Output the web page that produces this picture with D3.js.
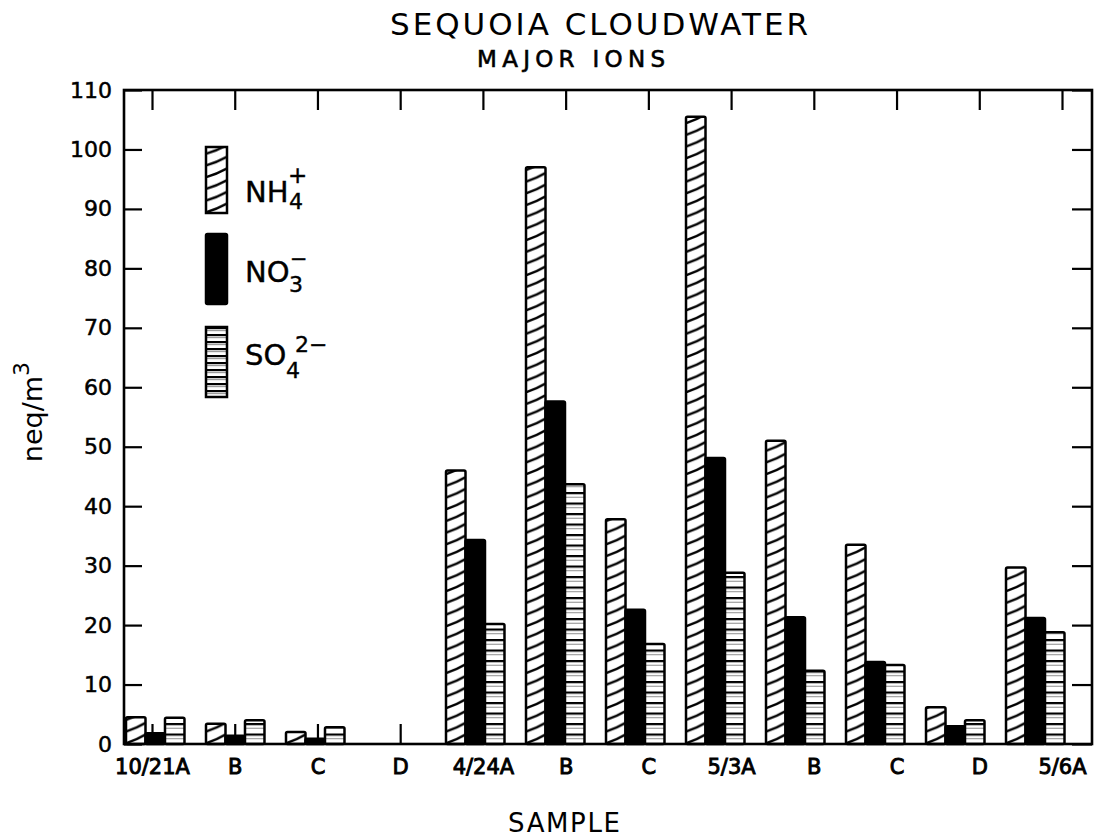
<!DOCTYPE html>
<html>
<head>
<meta charset="utf-8">
<script src="https://cdn.jsdelivr.net/npm/d3@7"></script>
<style>
  body { margin: 0; background: #fff; }
  svg { display: block; }
  text { font-family: "DejaVu Sans", sans-serif; fill: #000; }
</style>
</head>
<body>
<svg id="chart" width="1096" height="839"></svg>
<script>
// ---- data ----
const categories = ["10/21A", "B", "C", "D", "4/24A", "B ", "C ", "5/3A", "B  ", "C  ", "D ", "5/6A"];
const categoryLabels = ["10/21A", "B", "C", "D", "4/24A", "B", "C", "5/3A", "B", "C", "D", "5/6A"];
const seriesNames = ["NH4", "NO3", "SO4"];
const nh4 = [4.5, 3.4, 2.0, 0, 46.0, 97.0, 37.8, 105.5, 51.0, 33.5, 6.2, 29.7];
const no3 = [1.8, 1.4, 0.9, 0, 34.3, 57.6, 22.6, 48.1, 21.3, 13.8, 3.0, 21.2];
const so4 = [4.4, 4.0, 2.8, 0, 20.2, 43.7, 16.8, 28.8, 12.3, 13.3, 4.0, 18.8];
const yTicks = [0, 10, 20, 30, 40, 50, 60, 70, 80, 90, 100, 110];

const seriesValues = { NH4: nh4, NO3: no3, SO4: so4 };

const svg = d3.select("#chart");
const defs = svg.append("defs");

const pLeft = 124, pRight = 1092, pTop = 90, pBottom = 744;

const y = d3.scaleLinear().domain([0, 110]).range([pBottom, pTop]);
// bars
const xBand = d3.scaleBand().domain(categories).range([126, 1064.5]).paddingInner(0.269).paddingOuter(0);
const xSub = d3.scaleBand().domain(seriesNames).range([0, xBand.bandwidth()]).padding(0);
// ticks / labels
const xTick = d3.scalePoint().domain(categories).range([152, 1062]);

// patterns
function hatchPattern(id, x0, y0, w) {
  const H = 11.7;
  const p = defs.append("pattern").attr("id", id).attr("patternUnits", "userSpaceOnUse")
    .attr("x", x0).attr("y", y0).attr("width", w).attr("height", H);
  p.append("rect").attr("width", w).attr("height", H).attr("fill", "#fff");
  p.append("path").attr("d", `M0,${H - 0.8} Q${w * 0.5},${H - 3.8} ${w},${H - 9.5}`)
    .attr("stroke", "#000").attr("stroke-width", 2.4).attr("fill", "none");
  return `url(#${id})`;
}
function stripePattern(id, x0, y0, w, H) {
  const p = defs.append("pattern").attr("id", id).attr("patternUnits", "userSpaceOnUse")
    .attr("x", x0).attr("y", y0).attr("width", w).attr("height", H);
  p.append("rect").attr("width", w).attr("height", H).attr("fill", "#fff");
  p.append("rect").attr("x", 0).attr("y", 0).attr("width", w).attr("height", 2.2).attr("fill", "#000");
  p.append("rect").attr("x", 0).attr("y", H * 0.45).attr("width", w).attr("height", 1).attr("fill", "#8a8a8a");
  return `url(#${id})`;
}

// axes (ticks) drawn first, bars on top
const gAxes = svg.append("g");
const axL = gAxes.append("g").attr("transform", `translate(${pLeft},0)`)
  .call(d3.axisLeft(y).tickValues(yTicks).tickSizeInner(-18).tickSizeOuter(0).tickPadding(12));
const axR = gAxes.append("g").attr("transform", `translate(${pRight},0)`)
  .call(d3.axisRight(y).tickValues(yTicks).tickSizeInner(-20).tickSizeOuter(0).tickFormat(""));
const axT = gAxes.append("g").attr("transform", `translate(0,${pTop})`)
  .call(d3.axisTop(xTick).tickSizeInner(-20).tickSizeOuter(0).tickFormat(""));
const axB = gAxes.append("g").attr("transform", `translate(0,${pBottom})`)
  .call(d3.axisBottom(xTick).tickSizeInner(-20).tickSizeOuter(0).tickPadding(15)
    .tickFormat((d, i) => categoryLabels[i]));
[axL, axR, axT, axB].forEach(a => {
  a.select(".domain").remove();
  a.selectAll(".tick line").attr("stroke", "#000").attr("stroke-width", 2.2);
});
axL.selectAll(".tick text").attr("font-size", 22).attr("font-family", "DejaVu Sans").attr("fill", "#000")
  .attr("stroke", "#000").attr("stroke-width", 0.5);
axB.selectAll(".tick text").attr("font-size", 21).attr("font-family", "DejaVu Sans").attr("fill", "#000")
  .attr("stroke", "#000").attr("stroke-width", 0.9);

// bars
const rows = [];
categories.forEach((c, i) => {
  seriesNames.forEach(s => rows.push({ cat: c, i, s, v: seriesValues[s][i] }));
});
const gBars = svg.append("g");
rows.filter(d => d.v > 0).forEach(d => {
  const x0 = xBand(d.cat) + xSub(d.s);
  const w = xSub.bandwidth();
  let fill = "#000";
  if (d.s === "NH4") fill = hatchPattern(`h${d.i}`, x0, pBottom, w);
  if (d.s === "SO4") fill = stripePattern(`s${d.i}`, x0, pBottom, w, 10.5);
  gBars.append("rect")
    .attr("x", x0).attr("y", y(d.v)).attr("width", w).attr("height", pBottom - y(d.v))
    .attr("fill", fill).attr("stroke", "#000").attr("stroke-width", 2.5).attr("rx", 1.5);
});

// frame
svg.append("rect").attr("x", pLeft).attr("y", pTop).attr("width", pRight - pLeft).attr("height", pBottom - pTop)
  .attr("fill", "none").attr("stroke", "#000").attr("stroke-width", 2.6);

// legend
const lg = svg.append("g");
const lx = 206, lw = 21;
lg.append("rect").attr("x", lx).attr("y", 147).attr("width", lw).attr("height", 66)
  .attr("fill", hatchPattern("lh", lx, 213, lw)).attr("stroke", "#000").attr("stroke-width", 2.5);
lg.append("rect").attr("x", lx).attr("y", 234).attr("width", lw).attr("height", 70)
  .attr("fill", "#000").attr("stroke", "#000").attr("stroke-width", 2.5).attr("rx", 1.5);
lg.append("rect").attr("x", lx).attr("y", 327).attr("width", lw).attr("height", 70)
  .attr("fill", stripePattern("ls", lx, 327, lw, 7)).attr("stroke", "#000").attr("stroke-width", 2.5);

function t(x, yy, s, size) {
  return lg.append("text").attr("x", x).attr("y", yy).attr("font-size", size)
    .attr("stroke", "#000").attr("stroke-width", 0.4).text(s);
}
t(245, 202, "NH", 29);
t(289, 209, "4", 22);
t(288, 183, "+", 23);
t(245, 282, "NO", 29);
t(289, 292, "3", 22);
t(290, 266, "−", 21);
t(245, 365, "SO", 29);
t(286, 378, "4", 22);
t(295, 352, "2−", 22);

// titles
svg.append("text").attr("x", 390).attr("y", 35).attr("font-size", 31)
  .attr("textLength", 418).attr("lengthAdjust", "spacing").text("SEQUOIA  CLOUDWATER");
svg.append("text").attr("x", 477).attr("y", 67).attr("font-size", 23)
  .attr("stroke", "#000").attr("stroke-width", 0.6)
  .attr("textLength", 188).attr("lengthAdjust", "spacing").text("MAJOR  IONS");
svg.append("text").attr("x", 508).attr("y", 832).attr("font-size", 26)
  .attr("textLength", 112).attr("lengthAdjust", "spacing").text("SAMPLE");

// y label
const yl = svg.append("text").attr("transform", "translate(42,412) rotate(-90)")
  .attr("text-anchor", "middle").attr("font-size", 27);
yl.append("tspan").text("neq/m");
yl.append("tspan").attr("font-size", 22).attr("dy", -13).text("3");
</script>
</body>
</html>
